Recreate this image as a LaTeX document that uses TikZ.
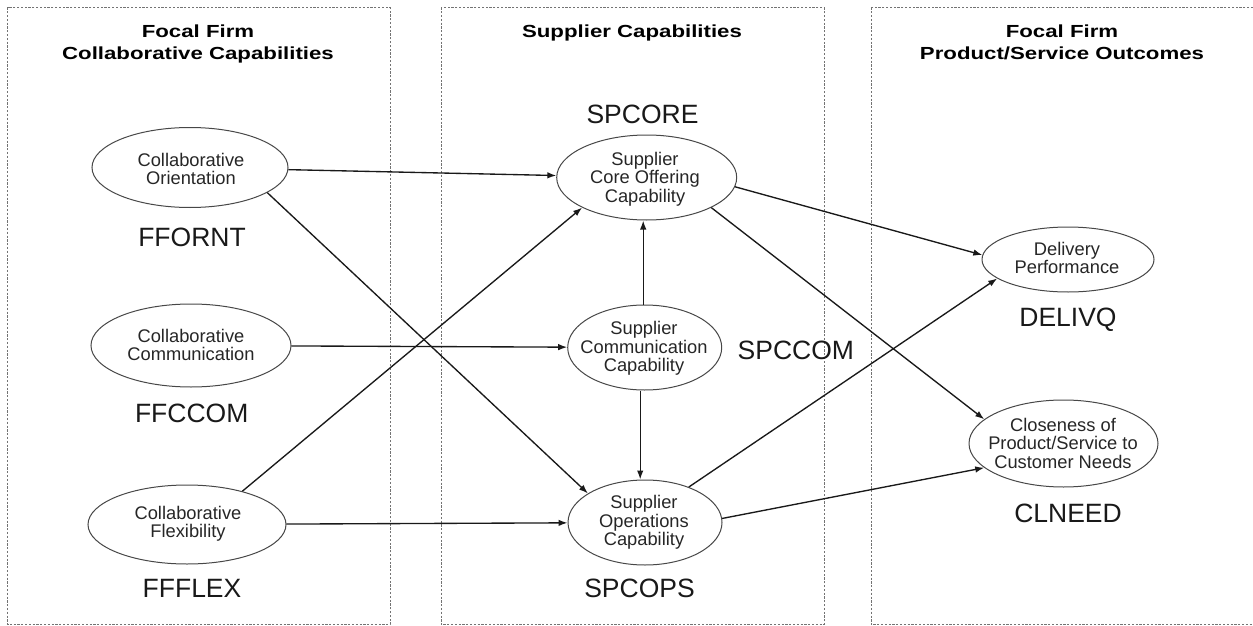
\documentclass[tikz,border=0pt]{standalone}
\usepackage{fontspec}
\setmainfont{Liberation Sans}
\usetikzlibrary{shapes.geometric,arrows.meta}
\newcommand\ttlline[1]{\scalebox{1.27}[1]{#1}}
\begin{document}
\begin{tikzpicture}[x=1pt,y=-1pt,
  framebox/.style={draw=black!55, line width=0.9pt, dash pattern=on 2.2pt off 1.6pt},
  ell/.style={draw=black!72, line width=1pt, ellipse, inner sep=0pt},
  etext/.style={align=center, inner sep=0pt, font=\fontsize{18.3}{18.5}\selectfont, text=black!85},
  lbl/.style={anchor=base, inner sep=0pt, font=\fontsize{26.5}{30}\selectfont, text=black!90},
  ttl/.style={anchor=north, align=center, inner sep=0pt, font=\fontsize{17.5}{22}\selectfont\bfseries},
  arr/.style={draw=black!90, line width=1.35pt, -{Latex[length=9pt,width=6.5pt]}}]
\clip (0,0) rectangle (1253,626);

% frames
\draw[framebox] (7.5,7.5) rectangle (390,624.5);
\draw[framebox] (441,7.5) rectangle (824,624.5);
\draw[framebox] (871,7.5) rectangle (1262,624.5);

% titles
\node[ttl] (t1) at (198,24.7) {\ttlline{Focal Firm}\\\ttlline{Collaborative Capabilities}};
\node[ttl] (t2) at (632,24.7) {\ttlline{Supplier Capabilities}};
\node[ttl] (t3) at (1062,24.7) {\ttlline{Focal Firm}\\\ttlline{Product/Service Outcomes}};

% ellipses
\node[ell, minimum width=196pt, minimum height=80pt] (co) at (190,167.5) {};
\node[ell, minimum width=200pt, minimum height=83pt] (cc) at (191,345.5) {};
\node[ell, minimum width=198pt, minimum height=79pt] (cf) at (187,524.5) {};
\node[ell, minimum width=180pt, minimum height=85pt] (spcore) at (646.7,177.5) {};
\node[ell, minimum width=154pt, minimum height=85pt] (spcomm) at (644.7,347.5) {};
\node[ell, minimum width=154pt, minimum height=85pt] (spcops) at (645,522.5) {};
\node[ell, minimum width=172pt, minimum height=65pt] (deliv) at (1068,259.5) {};
\node[ell, minimum width=189pt, minimum height=87pt] (close) at (1063.5,443.5) {};

% ellipse texts
\node[etext] (co-t) at (191,169) {Collaborative\\Orientation};
\node[etext] (cc-t) at (191,345) {Collaborative\\Communication};
\node[etext] (cf-t) at (188,524) {Collaborative\\Flexibility};
\node[etext] (spcore-t) at (645,179) {Supplier\\Core Offering\\Capability};
\node[etext] (spcomm-t) at (644,348.5) {Supplier\\Communication\\Capability};
\node[etext] (spcops-t) at (644,522.5) {Supplier\\Operations\\Capability};
\node[etext] (deliv-t) at (1067,258) {Delivery\\Performance};
\node[etext] (close-t) at (1063,443) {Closeness of\\Product/Service to\\Customer Needs};

% labels
\node[lbl] (l1) at (192,246.5) {FFORNT};
\node[lbl] (l2) at (191.7,422.5) {FFCCOM};
\node[lbl] (l3) at (192,597.5) {FFFLEX};
\node[lbl] (l4) at (642.5,123.5) {SPCORE};
\node[lbl] (l5) at (795.8,359.5) {SPCCOM};
\node[lbl] (l6) at (639.5,597.5) {SPCOPS};
\node[lbl] (l7) at (1068,326.5) {DELIVQ};
\node[lbl] (l8) at (1068,522.5) {CLNEED};

% connectors
\draw[arr] (co) -- (spcore);
\draw[arr] (co.-18) -- (spcops.153);
\draw[arr] (cc) -- (spcomm);
\draw[arr] (cf.31) -- (spcore.205);
\draw[arr] (cf) -- (spcops);
\draw[arr] ([xshift=-1.5pt]spcomm.north) -- ([xshift=-1.5pt]spcomm.north |- spcore.south);
\draw[arr] ([xshift=-4.5pt]spcomm.south) -- ([xshift=-4.5pt]spcomm.south |- spcops.north);
\draw[arr] (spcore.-6) -- (deliv.177);
\draw[arr] (spcore.-25) -- (close.163);
\draw[arr] (spcops.39) -- (deliv.195);
\draw[arr] (spcops.3) -- (close.197);
\end{tikzpicture}
\end{document}
